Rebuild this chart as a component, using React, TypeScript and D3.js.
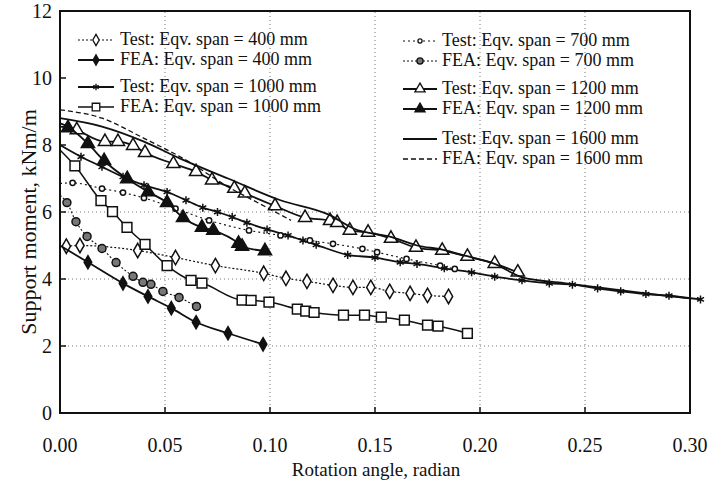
import * as d3 from "d3";
import { useEffect, useRef } from "react";

// axis ticks
const xTicks = [0, 0.05, 0.1, 0.15, 0.2, 0.25, 0.3];
const yTicks = [0, 2, 4, 6, 8, 10, 12];
const gridX = [0.05, 0.1, 0.15, 0.2, 0.25];
const gridY = [2, 4, 6];

// [rotation (rad), moment (kNm/m)]
const test400 = [
  [0.003, 4.98], [0.0095, 5.0], [0.037, 4.85], [0.055, 4.64], [0.074, 4.4],
  [0.097, 4.17], [0.1076, 4.02], [0.1176, 3.93], [0.13, 3.81], [0.1395, 3.75],
  [0.148, 3.75], [0.157, 3.63], [0.1667, 3.57], [0.175, 3.51], [0.185, 3.48],
];
const fea400 = [
  [0.0, 5.0], [0.0133, 4.5], [0.03, 3.87], [0.0419, 3.48], [0.053, 3.13],
  [0.0648, 2.71], [0.08, 2.38], [0.0967, 2.05],
];
const test700 = [
  [0.0, 6.85], [0.006, 6.87], [0.02, 6.7], [0.03, 6.58], [0.04, 6.42],
  [0.055, 6.1], [0.071, 5.75], [0.09, 5.45], [0.105, 5.3], [0.119, 5.15],
  [0.13, 5.05], [0.144, 4.9], [0.151, 4.8], [0.165, 4.6], [0.181, 4.4], [0.188, 4.3],
];
const fea700 = [
  [0.0, 6.5], [0.0033, 6.28], [0.0076, 5.71], [0.0129, 5.27], [0.02, 4.91],
  [0.0267, 4.49], [0.0348, 4.08], [0.0395, 3.9], [0.0433, 3.84], [0.049, 3.63],
  [0.0567, 3.45], [0.065, 3.18],
];
const test1000 = [
  [0.0, 8.0], [0.01, 7.65], [0.02, 7.35], [0.03, 7.05], [0.04, 6.8],
  [0.051, 6.6], [0.06, 6.35], [0.068, 6.13], [0.075, 6.0], [0.082, 5.85],
  [0.089, 5.68], [0.0986, 5.48], [0.1086, 5.3], [0.1157, 5.15], [0.122, 5.02],
  [0.137, 4.72], [0.15, 4.64], [0.162, 4.5], [0.17, 4.45], [0.183, 4.32],
  [0.196, 4.2], [0.207, 4.07], [0.22, 3.96], [0.233, 3.87], [0.244, 3.83],
  [0.256, 3.72], [0.267, 3.63], [0.279, 3.55], [0.29, 3.5], [0.305, 3.39],
];
const fea1000 = [
  [0.0, 7.85], [0.0071, 7.38], [0.0195, 6.34], [0.025, 6.01], [0.0319, 5.54],
  [0.0405, 5.03], [0.051, 4.4], [0.0624, 3.96], [0.0676, 3.88], [0.0867, 3.37],
  [0.091, 3.36], [0.0995, 3.31], [0.113, 3.1], [0.117, 3.04], [0.121, 3.0],
  [0.135, 2.92], [0.145, 2.92], [0.153, 2.86], [0.164, 2.77], [0.175, 2.62],
  [0.18, 2.59], [0.194, 2.38],
];
const test1200 = [
  [0.0, 8.65], [0.008, 8.45], [0.0214, 8.1], [0.0276, 8.1], [0.0348, 7.98],
  [0.0405, 7.77], [0.054, 7.44], [0.0648, 7.2], [0.0724, 6.95], [0.083, 6.7],
  [0.088, 6.56], [0.1024, 6.18], [0.1167, 5.83], [0.1286, 5.74], [0.132, 5.68],
  [0.138, 5.45], [0.1467, 5.39], [0.1576, 5.21], [0.1695, 4.94], [0.182, 4.85],
  [0.194, 4.67], [0.207, 4.46], [0.218, 4.2],
];
const fea1200 = [
  [0.0, 8.55], [0.0038, 8.51], [0.0133, 8.04], [0.021, 7.53], [0.032, 6.99],
  [0.042, 6.6], [0.051, 6.28], [0.0586, 5.83], [0.0676, 5.54], [0.073, 5.45],
  [0.085, 5.06], [0.0867, 4.97], [0.0976, 4.84],
];
const test1600 = [
  [0.0, 8.8], [0.02, 8.55], [0.04, 8.1], [0.057, 7.6], [0.08, 7.0],
  [0.105, 6.35], [0.128, 5.92], [0.14, 5.5], [0.158, 5.25], [0.17, 5.0],
  [0.182, 4.88], [0.194, 4.68], [0.207, 4.45], [0.22, 4.05], [0.24, 3.88],
  [0.26, 3.72], [0.28, 3.56], [0.3, 3.42],
];
const fea1600 = [
  [0.0, 9.05], [0.02, 8.8], [0.04, 8.2], [0.06, 7.55], [0.08, 6.75],
  [0.095, 6.25], [0.11, 5.75],
];

const series = [
  { label: "Test: Eqv. span = 400 mm", data: test400, dash: "2,2", sw: 1.2, symbol: d3.symbolDiamond, size: 60, fill: "#fff", col: 0, row: 0 },
  { label: "FEA: Eqv. span = 400 mm", data: fea400, dash: null, sw: 1.8, symbol: d3.symbolDiamond, size: 50, fill: "#111", col: 0, row: 1 },
  { label: "Test: Eqv. span = 1000 mm", data: test1000, dash: null, sw: 1.8, symbol: d3.symbolAsterisk, size: 45, fill: "none", col: 0, row: 2 },
  { label: "FEA: Eqv. span = 1000 mm", data: fea1000, dash: null, sw: 1.5, symbol: d3.symbolSquare, size: 95, fill: "#fff", col: 0, row: 3 },
  { label: "Test: Eqv. span = 700 mm", data: test700, dash: "2,3", sw: 1.1, symbol: d3.symbolCircle, size: 22, fill: "#fff", col: 1, row: 0 },
  { label: "FEA: Eqv. span = 700 mm", data: fea700, dash: "2,2", sw: 1.1, symbol: d3.symbolCircle, size: 50, fill: "#777", col: 1, row: 1 },
  { label: "Test: Eqv. span = 1200 mm", data: test1200, dash: null, sw: 1.8, symbol: d3.symbolTriangle, size: 75, fill: "#fff", col: 1, row: 2 },
  { label: "FEA: Eqv. span = 1200 mm", data: fea1200, dash: null, sw: 1.8, symbol: d3.symbolTriangle, size: 75, fill: "#111", col: 1, row: 3 },
  { label: "Test: Eqv. span = 1600 mm", data: test1600, dash: null, sw: 1.8, symbol: null, size: 0, fill: "none", col: 1, row: 4 },
  { label: "FEA: Eqv. span = 1600 mm", data: fea1600, dash: "5,3", sw: 1.3, symbol: null, size: 0, fill: "none", col: 1, row: 5 },
];

const FONT = "'Liberation Serif', 'Times New Roman', serif";

const MomentChart = ({ width, height }) => {
  const svgRef = useRef(null);

  useEffect(() => {
    const margin = { top: 11, left: 60, right: 30, bottom: 74 };
    const svg = d3.select(svgRef.current).attr("width", width).attr("height", height);
    svg.selectAll("*").remove();

    const x = d3.scaleLinear().domain([0, 0.3]).range([margin.left, width - margin.right]);
    const y = d3.scaleLinear().domain([0, 12]).range([height - margin.bottom, margin.top]);

    // grid
    svg
      .selectAll(".gx")
      .data(gridX)
      .join("line")
      .attr("x1", (d) => x(d))
      .attr("x2", (d) => x(d))
      .attr("y1", y(0))
      .attr("y2", y(12))
      .attr("stroke", "#777")
      .attr("stroke-width", 1)
      .attr("stroke-dasharray", "1,3");
    svg
      .selectAll(".gy")
      .data(gridY)
      .join("line")
      .attr("x1", x(0))
      .attr("x2", x(0.3))
      .attr("y1", (d) => y(d))
      .attr("y2", (d) => y(d))
      .attr("stroke", "#777")
      .attr("stroke-width", 1)
      .attr("stroke-dasharray", "1,3");

    // curves
    const line = d3
      .line()
      .x((d) => x(d[0]))
      .y((d) => y(d[1]))
      .curve(d3.curveMonotoneX);

    const g = svg.append("g");
    series.forEach((s) => {
      g.append("path")
        .attr("d", line(s.data))
        .attr("fill", "none")
        .attr("stroke", "#111")
        .attr("stroke-width", s.sw)
        .attr("stroke-dasharray", s.dash);
      if (s.symbol) {
        g.selectAll(null)
          .data(s.data.filter((d) => d[0] > 0))
          .join("path")
          .attr("transform", (d) => `translate(${x(d[0])},${y(d[1])})`)
          .attr("d", d3.symbol().type(s.symbol).size(s.size))
          .attr("fill", s.fill)
          .attr("stroke", "#111")
          .attr("stroke-width", 1.5);
      }
    });

    // frame
    svg
      .append("rect")
      .attr("x", x(0))
      .attr("y", y(12))
      .attr("width", x(0.3) - x(0))
      .attr("height", y(0) - y(12))
      .attr("fill", "none")
      .attr("stroke", "#111")
      .attr("stroke-width", 2);

    // ticks
    svg
      .selectAll(".tx")
      .data(xTicks)
      .join("line")
      .attr("x1", (d) => x(d))
      .attr("x2", (d) => x(d))
      .attr("y1", y(0))
      .attr("y2", y(0) - 6)
      .attr("stroke", "#111")
      .attr("stroke-width", 1.5);
    svg
      .selectAll(".ty")
      .data(yTicks)
      .join("line")
      .attr("x1", x(0))
      .attr("x2", x(0) + 6)
      .attr("y1", (d) => y(d))
      .attr("y2", (d) => y(d))
      .attr("stroke", "#111")
      .attr("stroke-width", 1.5);

    svg
      .selectAll(".lx")
      .data(xTicks)
      .join("text")
      .attr("x", (d) => x(d))
      .attr("y", y(0) + 39)
      .attr("text-anchor", "middle")
      .attr("font-family", FONT)
      .attr("font-size", 20)
      .attr("fill", "#111")
      .text((d) => d3.format(".2f")(d));
    svg
      .selectAll(".ly")
      .data(yTicks)
      .join("text")
      .attr("x", x(0) - 8)
      .attr("y", (d) => y(d) + 7)
      .attr("text-anchor", "end")
      .attr("font-family", FONT)
      .attr("font-size", 20)
      .attr("fill", "#111")
      .text((d) => d);

    // axis titles
    svg
      .append("text")
      .attr("x", 376)
      .attr("y", 476)
      .attr("text-anchor", "middle")
      .attr("font-family", FONT)
      .attr("font-size", 19)
      .attr("fill", "#111")
      .text("Rotation angle, radian");
    svg
      .append("text")
      .attr("transform", "translate(36,222) rotate(-90)")
      .attr("text-anchor", "middle")
      .attr("font-family", FONT)
      .attr("font-size", 22)
      .attr("fill", "#111")
      .text("Support moment, kNm/m");

    // legend
    const cols = [
      { x1: 78, x2: 114, tx: 120, rows: [40, 60, 87, 107] },
      { x1: 403, x2: 437, tx: 442, rows: [41, 61, 89, 109, 139, 159] },
    ];
    const lg = svg.append("g");
    series.forEach((s) => {
      const c = cols[s.col];
      const ry = c.rows[s.row];
      lg.append("line")
        .attr("x1", c.x1)
        .attr("x2", c.x2)
        .attr("y1", ry)
        .attr("y2", ry)
        .attr("stroke", "#111")
        .attr("stroke-width", s.sw)
        .attr("stroke-dasharray", s.dash);
      if (s.symbol) {
        lg.append("path")
          .attr("transform", `translate(${(c.x1 + c.x2) / 2},${ry})`)
          .attr("d", d3.symbol().type(s.symbol).size(s.size * 0.6))
          .attr("fill", s.fill)
          .attr("stroke", "#111")
          .attr("stroke-width", 1.3);
      }
      lg.append("text")
        .attr("x", c.tx)
        .attr("y", ry + 5)
        .attr("font-family", FONT)
        .attr("font-size", 18)
        .attr("fill", "#111")
        .text(s.label);
    });
  }, [width, height]);

  return <svg ref={svgRef} style={{ position: "absolute", left: 0, top: 0, background: "#fff" }}></svg>;
};

export default function App() {
  return <MomentChart width={720} height={487} />;
}
